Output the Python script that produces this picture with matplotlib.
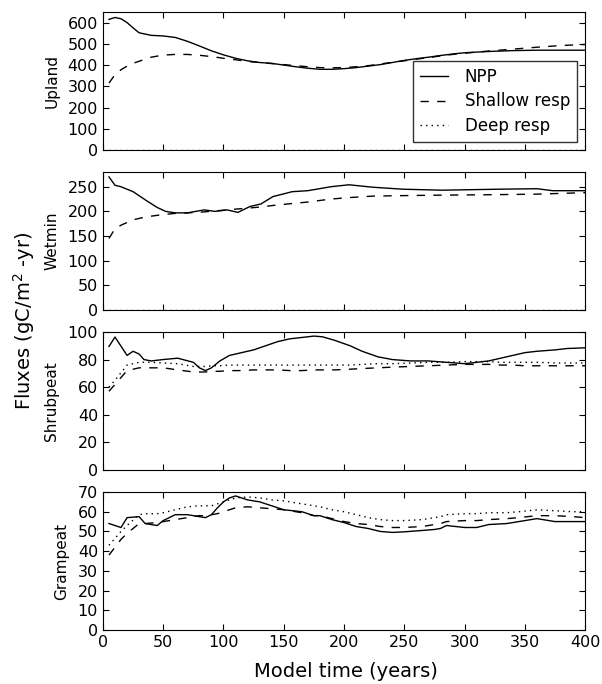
import numpy as np
import matplotlib
matplotlib.use("Agg")
import matplotlib.pyplot as plt

# ---- data ----
panel_names = ["Upland", "Wetmin", "Shrubpeat", "Grampeat"]
y_limits = [650, 280, 100, 70]
y_steps = [100, 50, 20, 10]

# Upland
up_t = [5, 10, 15, 20, 25, 30, 40, 50, 60, 70, 80, 90, 100, 110, 120, 130, 140, 150,
        160, 170, 180, 190, 200, 210, 220, 230, 240, 250, 260, 270, 280, 290, 300,
        320, 340, 360, 380, 400]
up_npp = [615, 624, 618, 600, 575, 552, 540, 537, 530, 512, 490, 467, 448, 432, 420,
          412, 408, 400, 392, 385, 380, 380, 383, 388, 395, 402, 412, 422, 430, 437,
          445, 452, 458, 464, 468, 470, 470, 470]
up_shallow = [315, 355, 378, 395, 408, 418, 437, 447, 450, 450, 446, 440, 432, 425, 417,
              412, 407, 402, 397, 392, 388, 387, 388, 392, 397, 405, 413, 420, 428, 435,
              443, 450, 456, 466, 475, 484, 492, 497]
up_deep = [0] * len(up_t)

# Wetmin
wm_t = [5, 10, 15, 25, 36, 45, 52, 60, 70, 84, 93, 103, 112, 122, 131, 141, 157, 170,
        189, 204, 224, 249, 281, 328, 360, 373, 400]
wm_npp = [270, 253, 250, 240, 222, 208, 200, 197, 197, 203, 200, 203, 198, 210, 215,
          230, 240, 242, 250, 254, 249, 245, 243, 245, 246, 242, 242]
wm_shallow = [145, 165, 172, 183, 189, 192, 194, 196, 197, 199, 201, 203, 205, 207, 209,
              212, 216, 219, 225, 228, 231, 232, 233, 234, 235, 236, 238]
wm_deep = [0] * len(wm_t)

# Shrubpeat
sp_t = [5, 10, 20, 25, 30, 34, 40, 50, 62, 75, 80, 85, 90, 97, 105, 115, 125, 135, 145,
        155, 165, 175, 182, 192, 205, 215, 228, 240, 255, 270, 285, 300, 310, 320, 330,
        340, 350, 360, 375, 385, 400]
sp_npp = [89.5, 96.3, 83, 86, 84, 80, 79, 80, 81, 78, 74, 72, 74, 79, 83, 85, 87, 90, 93,
          95, 96, 97, 96.5, 94, 90, 86, 82, 80, 79, 79, 78, 77, 78, 79, 81, 83, 85, 86,
          87, 88, 88.5]
sp_shallow = [57, 62, 72, 73, 74, 74, 74, 74, 72.5, 71, 71, 71, 71.5, 71.5, 72, 72, 72.5,
              72.5, 72.5, 72, 72, 72.5, 72.5, 72.5, 73, 73.5, 74, 74.5, 75, 75.5, 76,
              76.5, 76.5, 76.5, 76, 76, 75.5, 75.5, 75.5, 75.5, 75.5]
sp_deep = [60, 65, 76, 77, 78, 78, 78, 77.5, 77, 75, 75, 75, 75.5, 75.5, 76, 76, 76, 76,
           76, 76, 76, 76, 76, 76, 76, 76.5, 77, 77, 77.5, 78, 78, 78.5, 78.5, 78.5, 78,
           78, 78, 78, 77.5, 77.5, 77.5]

# Grampeat
gp_t = [5, 15, 20, 30, 35, 45, 50, 60, 70, 80, 85, 90, 95, 100, 105, 110, 120, 130, 140,
        150, 165, 175, 180, 190, 200, 210, 220, 230, 240, 250, 265, 275, 280, 285, 300,
        310, 320, 335, 345, 360, 375, 390, 400]
gp_npp = [54, 52, 57, 57.5, 54, 53, 55.5, 58.5, 58.5, 57.5, 57, 58.5, 62, 65, 67, 68, 66,
          65, 63, 61, 60, 58, 58, 56, 54.5, 52.5, 51.5, 50, 49.5, 49.8, 50.5, 51, 51.5,
          53, 52, 52, 53.5, 54, 55, 56.5, 55, 55, 55]
gp_shallow = [38, 46, 49, 54, 54, 54.5, 55, 56, 57, 58, 58, 58.5, 59, 60, 61, 62, 62.5,
              62, 61.5, 61, 59.5, 58, 58, 56.5, 55, 54, 53.5, 52.5, 52, 52, 52.5, 53.5,
              54, 55, 55.5, 55.5, 56, 56.5, 57, 58, 58, 57.5, 57]
gp_deep = [43, 50, 53, 58.5, 59, 59, 59.5, 61, 62.5, 63, 63, 63, 64, 65, 66, 67, 67.5, 67,
           66, 65.5, 64, 63, 62.5, 61, 60, 58.5, 57, 56, 55.5, 55.5, 56, 57, 57.5, 58.5,
           59, 59, 59.5, 59.5, 60, 61, 60.5, 60, 60]

times = [up_t, wm_t, sp_t, gp_t]
npp = [up_npp, wm_npp, sp_npp, gp_npp]
shallow = [up_shallow, wm_shallow, sp_shallow, gp_shallow]
deep = [up_deep, wm_deep, sp_deep, gp_deep]

plt.rcParams["font.family"] = "DejaVu Sans"
plt.rcParams["font.size"] = 12

fig = plt.figure(figsize=(6.02, 6.84), dpi=100)

bottoms = [0.7807, 0.5468, 0.3129, 0.0789]
axes = []
for i in range(4):
    ax = fig.add_axes([0.171, bottoms[i], 0.801, 0.2018])
    ax.plot(times[i], npp[i], color="k", lw=1.0, ls="-", label="NPP")
    ax.plot(times[i], shallow[i], color="k", lw=1.0, ls=(0, (6, 6)), label="Shallow resp")
    ax.plot(times[i], deep[i], color="k", lw=1.0, ls=(0, (1, 3)), label="Deep resp")
    ax.set_xlim(0, 400)
    ax.set_ylim(0, y_limits[i])
    ax.set_xticks(np.arange(0, 401, 50))
    ax.set_yticks(np.arange(0, y_limits[i] + 1, y_steps[i]))
    ax.tick_params(direction="in", top=True, right=True, length=4, labelsize=11.5)
    ax.set_ylabel(panel_names[i], fontsize=11, labelpad=6)
    if i < 3:
        ax.tick_params(labelbottom=False)
    axes.append(ax)

leg = axes[0].legend(loc="lower right", fontsize=12, fancybox=False,
                     edgecolor="k", handlelength=1.7, handletextpad=1.0,
                     borderaxespad=0.5, labelspacing=0.4)
leg.get_frame().set_linewidth(1.0)

fig.text(0.04, 0.531, "Fluxes (gC/m$^2$ -yr)", rotation=90, fontsize=14,
         ha="center", va="center")
fig.text(0.574, 0.018, "Model time (years)", fontsize=14, ha="center", va="center")

fig.savefig("out.png", dpi=100)
